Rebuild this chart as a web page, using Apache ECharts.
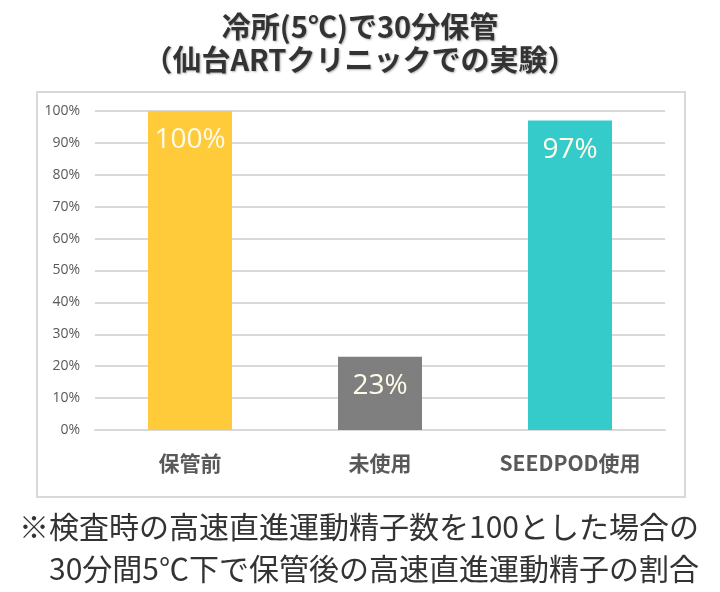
<!DOCTYPE html>
<html>
<head>
<meta charset="utf-8">
<script src="https://cdn.jsdelivr.net/npm/echarts@6/dist/echarts.min.js"></script>
<style>
  html, body { margin: 0; padding: 0; background: #fff; }
  #chart { width: 720px; height: 592px; }
</style>
</head>
<body>
<div id="chart"></div>
<script>
// data
const categories = ['保管前', '未使用', 'SEEDPOD使用']
const values = [100, 23, 97]
const barColors = ['#FFCB3A', '#7F7F7F', '#36CBCB']
const yTicks = [0, 10, 20, 30, 40, 50, 60, 70, 80, 90, 100]

const chart = echarts.init(document.getElementById('chart'))

const option = {
  backgroundColor: '#fff',
  animation: false,
  title: [
    {
      text: '冷所(5℃)で30分保管\n（仙台ARTクリニックでの実験）',
      left: 'center',
      top: 5,
      textStyle: {
        fontFamily: 'Noto Sans CJK JP',
        fontWeight: 'bold',
        fontSize: 29,
        lineHeight: 33,
        color: '#333',
        textShadowColor: 'rgba(0,0,0,0.3)',
        textShadowBlur: 2,
        textShadowOffsetX: 1,
        textShadowOffsetY: 1
      }
    },
    {
      text: '※検査時の高速直進運動精子数を100とした場合の\n　30分間5℃下で保管後の高速直進運動精子の割合',
      left: 14,
      top: 501,
      textStyle: {
        fontFamily: 'Noto Sans CJK JP',
        fontWeight: 'normal',
        fontSize: 30,
        lineHeight: 42,
        color: '#333'
      }
    }
  ],
  graphic: [
    {
      type: 'rect',
      shape: { x: 37, y: 92, width: 648, height: 405 },
      style: { fill: 'none', stroke: '#D9D9D9', lineWidth: 2 },
      z: 0
    }
  ],
  grid: {
    left: 95,
    right: 55,
    top: 111,
    bottom: 162
  },
  xAxis: {
    type: 'category',
    data: categories,
    axisTick: { show: false },
    axisLine: { lineStyle: { color: '#D9D9D9', width: 2 } },
    axisLabel: {
      margin: 23,
      fontFamily: 'Noto Sans CJK JP',
      fontSize: 21,
      fontWeight: 'bold',
      color: '#595959'
    }
  },
  yAxis: {
    type: 'value',
    min: 0,
    max: 100,
    interval: 10,
    axisLine: { show: false },
    axisTick: { show: false },
    splitLine: { lineStyle: { color: '#D9D9D9', width: 2 } },
    axisLabel: {
      margin: 15,
      fontFamily: 'Open Sans',
      fontSize: 14,
      color: '#595959',
      formatter: (v) => (yTicks.includes(v) ? v + '%' : '')
    }
  },
  series: [
    {
      type: 'bar',
      barWidth: 84,
      data: values.map((v, i) => ({ value: v, itemStyle: { color: barColors[i] } })),
      label: {
        show: true,
        position: 'insideTop',
        distance: 15,
        fontFamily: 'Open Sans',
        fontSize: 28,
        color: '#FFFBEA',
        formatter: '{c}%'
      }
    }
  ]
}

chart.setOption(option)
</script>
</body>
</html>
